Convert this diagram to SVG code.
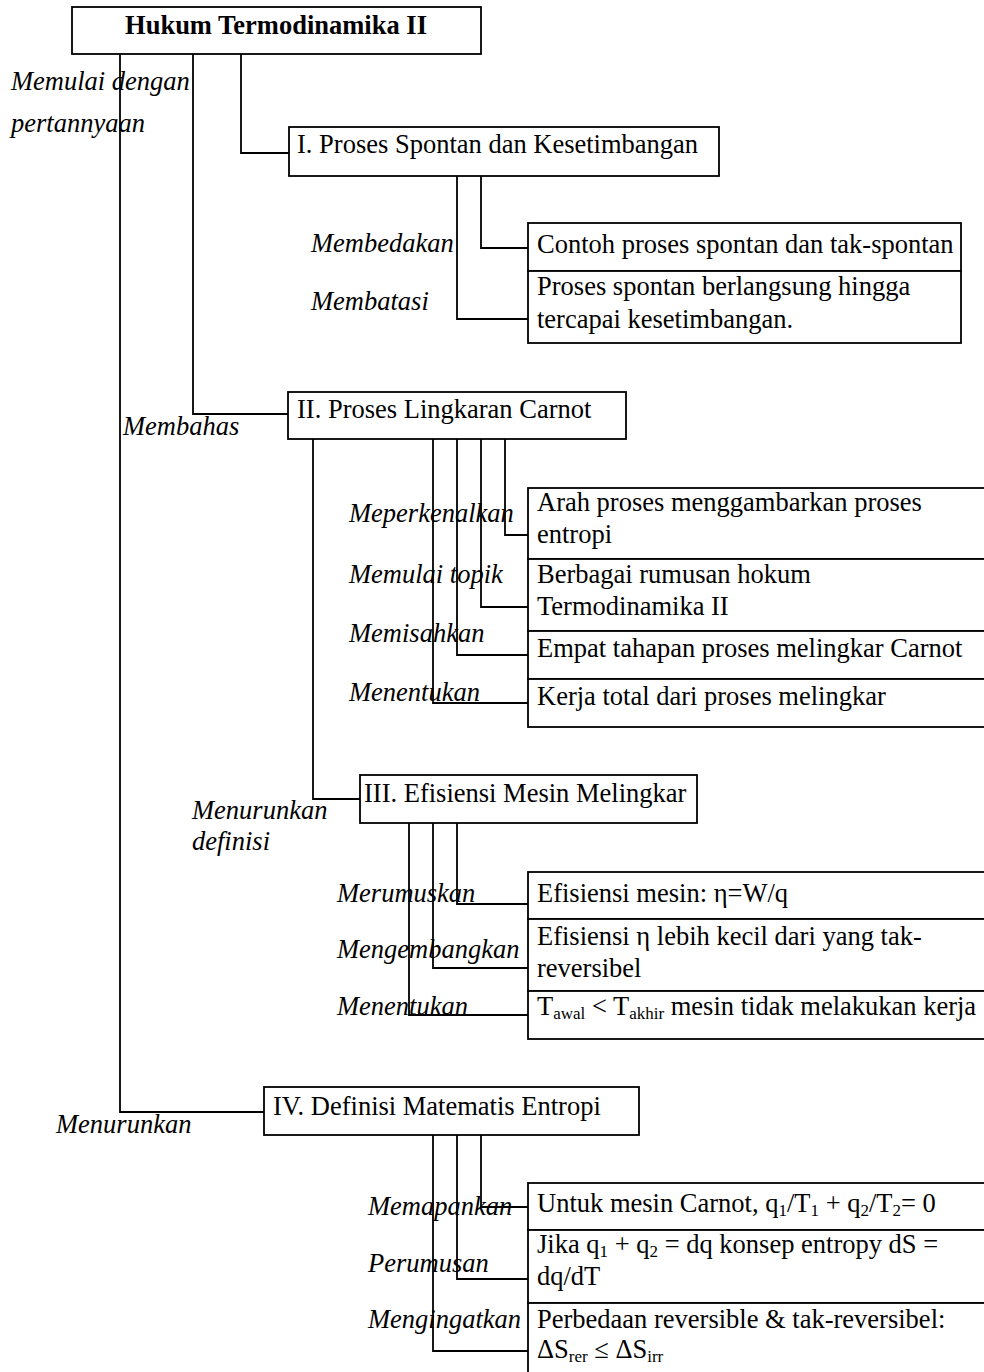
<svg xmlns="http://www.w3.org/2000/svg" width="984" height="1372" viewBox="0 0 984 1372">
  <style>
    .box { fill: #fff; stroke: #000; stroke-width: 1.8; }
    .wire { fill: none; stroke: #000; stroke-width: 1.8; }
    text { font-family: "Liberation Serif", "Times New Roman", serif; font-size: 26.5px; fill: #000; }
    .title { font-weight: bold; }
    .verb { font-style: italic; }
    .sub { font-size: 17px; }
  </style>
  <rect width="984" height="1372" fill="#fff"/>

  <!-- connectors: trunk lines and elbows -->
  <g id="connectors">
    <polyline class="wire" points="120,54 120,1112 264,1112"/>
    <polyline class="wire" points="193,54 193,414 288,414"/>
    <polyline class="wire" points="241,54 241,153 289,153"/>
    <!-- section I -->
    <polyline class="wire" points="457,176 457,319 528,319"/>
    <polyline class="wire" points="481,176 481,248 528,248"/>
    <!-- section II -->
    <polyline class="wire" points="313,439 313,799 360,799"/>
    <polyline class="wire" points="433,439 433,703 528,703"/>
    <polyline class="wire" points="457,439 457,655 528,655"/>
    <polyline class="wire" points="481,439 481,607 528,607"/>
    <polyline class="wire" points="505,439 505,535 528,535"/>
    <!-- section III -->
    <polyline class="wire" points="409,823 409,1015 528,1015"/>
    <polyline class="wire" points="433,823 433,968 528,968"/>
    <polyline class="wire" points="457,823 457,904 528,904"/>
    <!-- section IV -->
    <polyline class="wire" points="433,1135 433,1351 528,1351"/>
    <polyline class="wire" points="457,1135 457,1279 528,1279"/>
    <polyline class="wire" points="481,1135 481,1207 528,1207"/>
  </g>

  <!-- connector labels -->
  <g id="labels">
    <text class="verb" x="11" y="90">Memulai dengan</text>
    <text class="verb" x="11" y="132">pertannyaan</text>
    <text class="verb" x="311" y="252">Membedakan</text>
    <text class="verb" x="311" y="310">Membatasi</text>
    <text class="verb" x="123" y="435">Membahas</text>
    <text class="verb" x="349" y="522">Meperkenalkan</text>
    <text class="verb" x="349" y="583">Memulai topik</text>
    <text class="verb" x="349" y="642">Memisahkan</text>
    <text class="verb" x="349" y="701">Menentukan</text>
    <text class="verb" x="192" y="819">Menurunkan</text>
    <text class="verb" x="192" y="850">definisi</text>
    <text class="verb" x="337" y="902">Merumuskan</text>
    <text class="verb" x="337" y="958">Mengembangkan</text>
    <text class="verb" x="337" y="1015">Menentukan</text>
    <text class="verb" x="56" y="1133">Menurunkan</text>
    <text class="verb" x="368" y="1215">Memapankan</text>
    <text class="verb" x="368" y="1272">Perumusan</text>
    <text class="verb" x="368" y="1328">Mengingatkan</text>
  </g>

  <g id="root">
    <rect class="box" x="72" y="7" width="409" height="47"/>
    <text class="title" x="276" y="34" text-anchor="middle">Hukum Termodinamika II</text>
  </g>

  <g id="sec1">
    <rect class="box" x="289" y="127" width="430" height="49"/>
    <text x="297" y="153">I. Proses Spontan dan Kesetimbangan</text>
  </g>
  <g id="sec1-a">
    <rect class="box" x="528" y="223" width="433" height="48"/>
    <text x="537" y="253">Contoh proses spontan dan tak-spontan</text>
  </g>
  <g id="sec1-b">
    <rect class="box" x="528" y="271" width="433" height="72"/>
    <text x="537" y="295">Proses spontan berlangsung hingga</text>
    <text x="537" y="328">tercapai kesetimbangan.</text>
  </g>

  <g id="sec2">
    <rect class="box" x="288" y="392" width="338" height="47"/>
    <text x="297" y="418">II. Proses Lingkaran Carnot</text>
  </g>
  <g id="sec2-a">
    <rect class="box" x="528" y="488" width="462" height="71"/>
    <text x="537" y="511">Arah proses menggambarkan proses</text>
    <text x="537" y="543">entropi</text>
  </g>
  <g id="sec2-b">
    <rect class="box" x="528" y="559" width="462" height="72"/>
    <text x="537" y="583">Berbagai rumusan hokum</text>
    <text x="537" y="615">Termodinamika II</text>
  </g>
  <g id="sec2-c">
    <rect class="box" x="528" y="631" width="462" height="48"/>
    <text x="537" y="657">Empat tahapan proses melingkar Carnot</text>
  </g>
  <g id="sec2-d">
    <rect class="box" x="528" y="679" width="462" height="48"/>
    <text x="537" y="705">Kerja total dari proses melingkar</text>
  </g>

  <g id="sec3">
    <rect class="box" x="360" y="775" width="337" height="48"/>
    <text x="364" y="802">III. Efisiensi Mesin Melingkar</text>
  </g>
  <g id="sec3-a">
    <rect class="box" x="528" y="872" width="462" height="47"/>
    <text x="537" y="902">Efisiensi mesin: η=W/q</text>
  </g>
  <g id="sec3-b">
    <rect class="box" x="528" y="919" width="462" height="72"/>
    <text x="537" y="945">Efisiensi η lebih kecil dari yang tak-</text>
    <text x="537" y="977">reversibel</text>
  </g>
  <g id="sec3-c">
    <rect class="box" x="528" y="991" width="462" height="48"/>
    <text x="537" y="1015">T<tspan class="sub" dy="4">awal</tspan><tspan dy="-4"> &lt; T</tspan><tspan class="sub" dy="4">akhir</tspan><tspan dy="-4"> mesin tidak melakukan kerja</tspan></text>
  </g>

  <g id="sec4">
    <rect class="box" x="264" y="1087" width="375" height="48"/>
    <text x="273" y="1115">IV. Definisi Matematis Entropi</text>
  </g>
  <g id="sec4-a">
    <rect class="box" x="528" y="1183" width="462" height="47"/>
    <text x="537" y="1212">Untuk mesin Carnot, q<tspan class="sub" dy="4">1</tspan><tspan dy="-4">/T</tspan><tspan class="sub" dy="4">1</tspan><tspan dy="-4"> + q</tspan><tspan class="sub" dy="4">2</tspan><tspan dy="-4">/T</tspan><tspan class="sub" dy="4">2</tspan><tspan dy="-4">= 0</tspan></text>
  </g>
  <g id="sec4-b">
    <rect class="box" x="528" y="1230" width="462" height="73"/>
    <text x="537" y="1253">Jika q<tspan class="sub" dy="4">1</tspan><tspan dy="-4"> + q</tspan><tspan class="sub" dy="4">2</tspan><tspan dy="-4"> = dq konsep entropy dS =</tspan></text>
    <text x="537" y="1285">dq/dT</text>
  </g>
  <g id="sec4-c">
    <rect class="box" x="528" y="1303" width="462" height="80"/>
    <text x="537" y="1328">Perbedaan reversible &amp; tak-reversibel:</text>
    <text x="537" y="1358">ΔS<tspan class="sub" dy="4">rer</tspan><tspan dy="-4"> ≤ ΔS</tspan><tspan class="sub" dy="4">irr</tspan></text>
  </g>
</svg>
